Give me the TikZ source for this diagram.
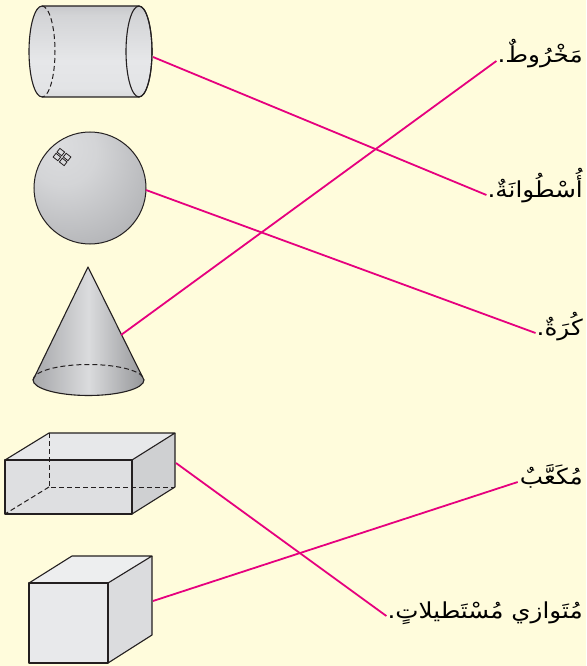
\documentclass[tikz,border=0pt]{standalone}
\usepackage{fontspec}
\usetikzlibrary{calc}
\newfontfamily\arabicfont[Script=Arabic,FakeStretch=1.12]{DejaVu Sans}
\TeXXeTstate=1
\definecolor{bg}{HTML}{FFFCDC}
\definecolor{link}{HTML}{E6007E}
\definecolor{ink}{HTML}{231F20}
\definecolor{shadeDark}{HTML}{A6A7AA}
\definecolor{shadeDarker}{HTML}{96979A}
\definecolor{shadeLight}{HTML}{E6E7E9}
\definecolor{ballLight}{HTML}{DCDDDF}
\definecolor{ballMid}{HTML}{B2B3B6}
\definecolor{ballEdge}{HTML}{88898D}
\definecolor{boxFront}{HTML}{DEDFE1}
\definecolor{boxTop}{HTML}{E7E8EA}
\definecolor{boxSide}{HTML}{CFD0D2}
\definecolor{cubeFront}{HTML}{E8E9EB}
\definecolor{cubeTop}{HTML}{EDEEEF}
\definecolor{cubeSide}{HTML}{DBDCDE}
\pgfdeclareradialshading{ballgray}{\pgfpoint{-15bp}{20bp}}{%
  color(0bp)=(ballLight); color(15bp)=(ballLight!80!ballMid);
  color(40bp)=(ballMid); color(68bp)=(ballEdge); color(80bp)=(ballEdge)}
\pgfdeclareverticalshading{cylgray}{100bp}{%
  color(0bp)=(shadeDark); color(30bp)=(shadeLight!95!shadeDark);
  color(45bp)=(shadeLight); color(70bp)=(shadeLight!70!shadeDark);
  color(100bp)=(shadeDark!85!black)}
\tikzset{
  outline/.style={draw=ink, line width=1.1pt, line join=round},
  hidden/.style={draw=ink, line width=1pt, dash pattern=on 5pt off 3pt},
  link/.style={draw=link, line width=1.8pt},
  label/.style={inner sep=0pt, anchor=base east, font=\arabicfont\fontsize{22}{26}\selectfont},
}
\begin{document}
\begin{tikzpicture}[x=1pt,y=-1pt]
\fill[bg] (0,0) rectangle (586,666);
\useasboundingbox (0,0) rectangle (586,666);

% cylinder lying on its side
\shade[shading=cylgray]
  (42,6) -- (139,6) arc[start angle=90,end angle=-90,x radius=13pt,y radius=45.5pt]
  -- (42,97) arc[start angle=270,end angle=90,x radius=13pt,y radius=45.5pt] -- cycle;
\draw[outline] (42,6) -- (139,6) arc[start angle=90,end angle=-90,x radius=13pt,y radius=45.5pt]
  -- (42,97) arc[start angle=270,end angle=90,x radius=13pt,y radius=45.5pt] -- cycle;
\draw[outline] (139,51.5) ellipse[x radius=13pt,y radius=45.5pt];
\draw[hidden] (42,6) arc[start angle=90,end angle=-90,x radius=13pt,y radius=45.5pt];
\coordinate (cyl) at (153,57);

% sphere with a small window mark
\shade[shading=ballgray] (90,188) circle[radius=56pt];
\draw[ink, line width=1pt] (90,188) circle[radius=56pt];
\begin{scope}[shift={(62,157)}, rotate=-38, draw=ink, line width=0.8pt]
  \draw (-7,-5.5) rectangle (-1,-0.8);
  \draw (1,-5.5) rectangle (7,-0.8);
  \draw (-7,0.8) rectangle (-1,5.5);
  \draw (1,0.8) rectangle (7,5.5);
\end{scope}
\coordinate (sph) at (146,190);

% cone
\shade[left color=shadeDark, right color=shadeDarker, middle color=shadeLight!95!black]
  (88,267) -- (33,380) arc[start angle=180,end angle=360,x radius=55.5pt,y radius=15.5pt] -- cycle;
\draw[outline] (88,267) -- (33,380) arc[start angle=180,end angle=360,x radius=55.5pt,y radius=15.5pt] -- cycle;
\draw[hidden] (33,380) arc[start angle=180,end angle=0,x radius=55.5pt,y radius=15.5pt];
\coordinate (cone) at (121,335);

% rectangular prism
\fill[boxFront] (5,460) rectangle (132,514);
\fill[boxTop] (5,460) -- (49,433) -- (175,433) -- (132,460) -- cycle;
\fill[boxSide] (132,460) -- (175,433) -- (175,487) -- (132,514) -- cycle;
\draw[hidden] (49,433) -- (49,487) -- (175,487);
\draw[hidden] (49,487) -- (5,514);
\draw[outline] (5,460) rectangle (132,514);
\draw[outline] (5,460) -- (49,433) -- (175,433) -- (132,460);
\draw[outline] (175,433) -- (175,487) -- (132,514);
\coordinate (prism) at (176,463);

% cube
\fill[cubeFront] (29,583) rectangle (108,663);
\fill[cubeTop] (29,583) -- (72,556) -- (152,556) -- (108,583) -- cycle;
\fill[cubeSide] (108,583) -- (152,556) -- (152,635) -- (108,663) -- cycle;
\draw[outline] (29,583) rectangle (108,663);
\draw[outline] (29,583) -- (72,556) -- (152,556) -- (108,583);
\draw[outline] (152,556) -- (152,635) -- (108,663);
\coordinate (cube) at (153,601);

% names
\node[label] (cone name) at (583,63) {\beginR مَخْرُوطٌ.\endR};
\node[label] (cyl name) at (583,197) {\beginR أُسْطُوانَةٌ.\endR};
\node[label] (sph name) at (583,335) {\beginR كُرَةٌ.\endR};
\node[label] (cube name) at (583,484) {\beginR مُكَعَّبٌ\endR};
\node[label] (prism name) at (583,618) {\beginR مُتَوازي مُسْتَطيلاتٍ.\endR};

% matching lines
\draw[link] (cyl) -- ($(cyl name.base west)+(-1,-2)$);
\draw[link] (sph) -- ($(sph name.base west)+(-1,-2)$);
\draw[link] (cone) -- ($(cone name.base west)+(-1,-2)$);
\draw[link] (prism) -- ($(prism name.base west)+(-1,-2)$);
\draw[link] (cube) -- ($(cube name.base west)+(-2,-2)$);
\end{tikzpicture}
\end{document}
